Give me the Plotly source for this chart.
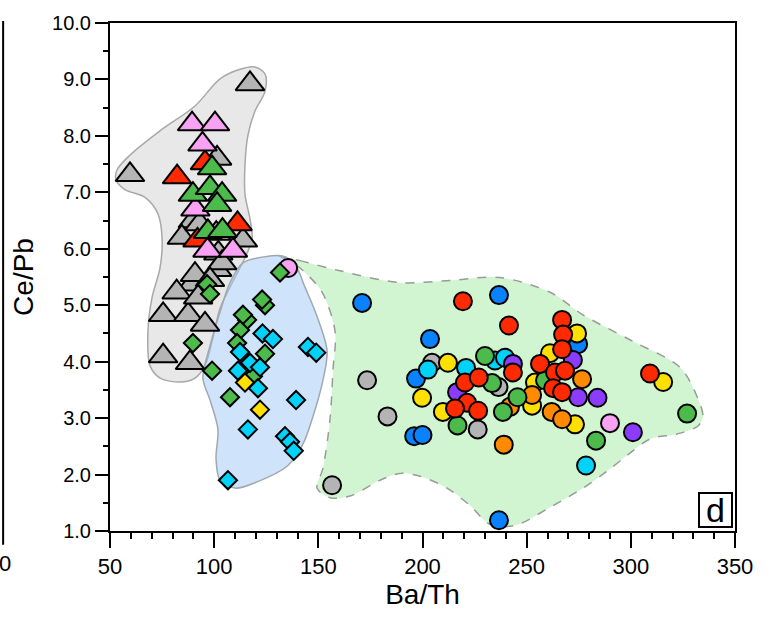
import plotly.graph_objects as go

# ---------------------------------------------------------------------------
# Field outlines (Ba/Th, Ce/Pb vertices)
# ---------------------------------------------------------------------------
gray_field_x = [53.4, 59.6, 74.0, 90.8, 102.8, 112.4, 119.6, 124.4, 124.4, 119.6,
                116.2, 114.8, 114.8, 117.2, 118.2, 114.8, 107.6, 102.8, 99.0, 95.6,
                90.8, 83.6, 74.0, 69.2, 68.2, 70.2, 74.0, 75.0, 73.0, 66.8, 57.2, 52.9]
gray_field_y = [7.40, 7.66, 8.09, 8.53, 9.01, 9.18, 9.22, 9.10, 8.79, 8.44,
                8.01, 7.49, 6.96, 6.53, 6.18, 5.84, 5.32, 4.94, 4.36, 3.93,
                3.71, 3.64, 3.71, 3.93, 4.54, 5.14, 5.66, 6.18, 6.62, 6.91, 7.05, 7.22]

blue_field_x = [113.8, 124.4, 133.0, 138.8, 143.6, 149.4, 154.2, 152.2, 147.0, 142.6,
                135.4, 120.6, 110.0, 102.8, 100.9, 101.8, 98.0, 94.6, 98.0, 102.8, 107.6]
blue_field_y = [5.75, 5.86, 5.87, 5.72, 5.32, 4.80, 4.19, 3.67, 2.98, 2.54,
                2.16, 1.87, 1.76, 1.90, 2.28, 2.80, 3.32, 3.71, 4.28, 4.88, 5.40]

green_field_x = [129.2, 141.2, 160.4, 189.2, 213.2, 237.2, 261.2, 277.0, 301.0, 323.6,
                 331.8, 334.6, 332.2, 322.2, 309.2, 298.2, 288.6, 277.0, 261.2, 244.4,
                 232.4, 222.8, 211.8, 198.8, 189.2, 179.6, 165.2, 155.6, 149.4, 152.2,
                 155.6, 157.0, 158.0, 151.8, 143.6, 136.4]
green_field_y = [5.89, 5.79, 5.61, 5.40, 5.44, 5.49, 5.23, 4.83, 4.36, 3.90,
                 3.38, 3.03, 2.86, 2.72, 2.63, 2.34, 2.06, 1.76, 1.42, 1.10,
                 1.12, 1.45, 1.76, 1.97, 2.02, 1.90, 1.62, 1.59, 1.76, 2.11,
                 2.98, 3.84, 4.54, 5.23, 5.58, 5.79]

# ---------------------------------------------------------------------------
# Samples: triangles
# ---------------------------------------------------------------------------
tri_gray_x = [117.2, 59.6, 101.4, 89.8, 113.8, 84.5, 102.0, 89.4, 101.4, 93.0,
              101.0, 82.0, 75.5, 87.5, 92.3, 95.6, 75.5, 88.4, 90.8, 103.8, 98.0]
tri_gray_y = [8.92, 7.31, 7.60, 6.49, 6.15, 6.20, 5.92, 5.37, 5.63, 6.44,
              6.27, 5.23, 4.83, 4.83, 5.14, 4.66, 4.10, 3.98, 5.54, 5.75, 5.45]

tri_red_x = [82.2, 95.6, 111.2, 92.0]
tri_red_y = [7.27, 7.52, 6.44, 6.15]

tri_pink_x = [89.4, 100.4, 94.4, 91.0, 96.8, 109.0]
tri_pink_y = [8.21, 8.21, 7.85, 6.70, 5.97, 5.97]

tri_green_x = [99.0, 89.8, 98.0, 103.8, 101.4, 97.0, 104.0]
tri_green_y = [7.43, 6.96, 7.08, 6.96, 6.78, 6.30, 6.32]

# ---------------------------------------------------------------------------
# Samples: diamonds
# ---------------------------------------------------------------------------
dia_green_x = [96.6, 98.0, 89.8, 99.0, 131.6, 124.4, 123.0, 115.8, 113.8, 112.4,
               111.0, 124.4, 118.6, 107.6]
dia_green_y = [5.37, 5.20, 4.33, 3.84, 5.58, 5.00, 5.10, 4.74, 4.83, 4.56,
               4.33, 4.14, 3.74, 3.37]

dia_cyan_x = [123.2, 128.2, 112.4, 117.2, 122.0, 111.4, 121.0, 139.3, 116.2, 134.0,
              136.4, 138.2, 145.0, 149.0, 106.6]
dia_cyan_y = [4.50, 4.40, 4.17, 3.98, 3.90, 3.84, 3.53, 3.32, 2.80, 2.68,
              2.58, 2.42, 4.26, 4.16, 1.90]

dia_yellow_x = [114.8, 122.0]
dia_yellow_y = [3.63, 3.15]

# ---------------------------------------------------------------------------
# Samples: circles
# ---------------------------------------------------------------------------
circ_gray_x = [156.6, 173.4, 183.2, 204.6, 226.5, 236.5]
circ_gray_y = [1.81, 3.67, 3.03, 3.98, 2.80, 3.55]

circ_blue_x = [171.0, 236.7, 203.6, 196.9, 196.0, 200.0, 236.7, 274.7]
circ_blue_y = [5.04, 5.18, 4.40, 3.70, 2.68, 2.70, 1.19, 4.31]

circ_cyan_x = [202.6, 220.9, 234.8, 239.6, 278.5]
circ_cyan_y = [3.86, 3.89, 4.02, 4.07, 2.16]

circ_yellow_x = [199.8, 212.2, 209.8, 261.2, 274.2, 254.0, 252.6, 273.2, 315.5]
circ_yellow_y = [3.36, 3.98, 3.11, 4.15, 4.50, 3.63, 3.22, 2.89, 3.64]

circ_orange_x = [239.0, 276.6, 252.6, 262.0, 267.0, 242.0]
circ_orange_y = [2.53, 3.69, 3.41, 3.11, 2.98, 3.20]

circ_purple_x = [216.6, 272.2, 274.7, 284.0, 301.0, 243.4]
circ_purple_y = [3.46, 4.03, 3.37, 3.36, 2.75, 3.96]

circ_green_x = [216.8, 230.0, 233.4, 245.6, 238.6, 258.8, 283.3, 327.0]
circ_green_y = [2.87, 4.10, 3.62, 3.37, 3.11, 3.67, 2.60, 3.08]

circ_pink_x = [135.5, 290.0]
circ_pink_y = [5.66, 2.91]

circ_red_x = [219.4, 241.5, 220.4, 227.0, 221.4, 226.7, 215.6, 243.4, 267.0, 267.5,
              267.0, 256.4, 263.6, 268.4, 262.7, 267.0, 309.2]
circ_red_y = [5.07, 4.64, 3.63, 3.72, 3.27, 3.13, 3.17, 3.81, 4.74, 4.48,
              4.22, 3.96, 3.81, 3.84, 3.53, 3.46, 3.79]

# ---------------------------------------------------------------------------
C_GRAY = "#b4b4b4"
C_RED = "#ff2a00"
C_PINK = "#f7a2f2"
C_GREEN = "#4cbb4c"
C_CYAN = "#00d2fa"
C_BLUE = "#0a82ff"
C_YELLOW = "#ffe000"
C_ORANGE = "#ff8a00"
C_PURPLE = "#8c3cff"

FONT = "Liberation Sans, Arial, Helvetica, sans-serif"

fig = go.Figure()


def add_field(xs, ys, fill, line_color, dash):
    fig.add_trace(go.Scatter(
        x=xs + xs[:1], y=ys + ys[:1], mode="lines", fill="toself",
        fillcolor=fill,
        line=dict(color=line_color, width=1.5, dash=dash, shape="spline", smoothing=0.9),
        hoverinfo="skip", showlegend=False))


add_field(green_field_x, green_field_y, "rgba(150,232,150,0.45)", "#9a9a9a", "dash")
add_field(gray_field_x, gray_field_y, "rgba(190,190,190,0.35)", "#a8a8a8", "solid")
add_field(blue_field_x, blue_field_y, "rgba(160,200,245,0.5)", "#a0a8b0", "solid")


def add_points(xs, ys, symbol, size, color):
    fig.add_trace(go.Scatter(
        x=xs, y=ys, mode="markers", showlegend=False,
        marker=dict(symbol=symbol, size=size, color=color,
                    line=dict(color="black", width=2))))


TRI = 25
DIA = 14
CIR = 18

add_points(tri_gray_x, tri_gray_y, "triangle-up", TRI, C_GRAY)
add_points(tri_red_x, tri_red_y, "triangle-up", TRI, C_RED)
add_points(tri_pink_x, tri_pink_y, "triangle-up", TRI, C_PINK)
add_points(tri_green_x, tri_green_y, "triangle-up", TRI, C_GREEN)

add_points(circ_pink_x[:1], circ_pink_y[:1], "circle", CIR, C_PINK)
add_points(dia_green_x, dia_green_y, "diamond", DIA, C_GREEN)
add_points(dia_yellow_x, dia_yellow_y, "diamond", DIA, C_YELLOW)
add_points(dia_cyan_x, dia_cyan_y, "diamond", DIA, C_CYAN)

add_points(circ_gray_x, circ_gray_y, "circle", CIR, C_GRAY)
add_points(circ_blue_x, circ_blue_y, "circle", CIR, C_BLUE)
add_points(circ_cyan_x, circ_cyan_y, "circle", CIR, C_CYAN)
add_points(circ_yellow_x, circ_yellow_y, "circle", CIR, C_YELLOW)
add_points(circ_orange_x, circ_orange_y, "circle", CIR, C_ORANGE)
add_points(circ_purple_x, circ_purple_y, "circle", CIR, C_PURPLE)
add_points(circ_green_x, circ_green_y, "circle", CIR, C_GREEN)
add_points(circ_pink_x[1:], circ_pink_y[1:], "circle", CIR, C_PINK)
add_points(circ_red_x, circ_red_y, "circle", CIR, C_RED)

fig.update_layout(
    width=771, height=617,
    margin=dict(l=110, r=36, t=15, b=83),
    paper_bgcolor="white", plot_bgcolor="white",
    font=dict(family=FONT, color="black"),
    showlegend=False,
    xaxis=dict(
        range=[50, 350], tick0=50, dtick=50,
        showgrid=False, zeroline=False,
        showline=True, linecolor="black", linewidth=2, mirror=True,
        ticks="outside", ticklen=15, tickwidth=2, tickcolor="black",
        tickfont=dict(size=22),
        minor=dict(dtick=10, ticks="outside", ticklen=6, tickwidth=2, tickcolor="black"),
        title=dict(text="Ba/Th", font=dict(size=28), standoff=6),
    ),
    yaxis=dict(
        range=[1, 10], tick0=1, dtick=1, tickformat=".1f",
        showgrid=False, zeroline=False,
        showline=True, linecolor="black", linewidth=2, mirror=True,
        ticks="outside", ticklen=13, tickwidth=2, tickcolor="black",
        tickfont=dict(size=20),
        minor=dict(dtick=0.5, ticks="outside", ticklen=5, tickwidth=2, tickcolor="black"),
        title=dict(text="Ce/Pb", font=dict(size=28), standoff=10),
    ),
)

# panel letter
fig.add_annotation(
    text="d", xref="paper", yref="paper", x=0.968, y=0.042,
    xanchor="center", yanchor="middle", showarrow=False,
    font=dict(size=34, family=FONT), bordercolor="black", borderwidth=2,
    borderpad=0, bgcolor="white", width=31, height=32, valign="middle")

# edge of the neighbouring panel
fig.add_shape(type="line", xref="paper", yref="paper",
              x0=-0.171, x1=-0.171, y0=-0.027, y1=1.004,
              line=dict(color="black", width=2))
fig.add_annotation(text="0", xref="paper", yref="paper", x=-0.168, y=-0.064,
                   xanchor="center", yanchor="middle", showarrow=False,
                   font=dict(size=22, family=FONT))

fig.write_html("out.html")
